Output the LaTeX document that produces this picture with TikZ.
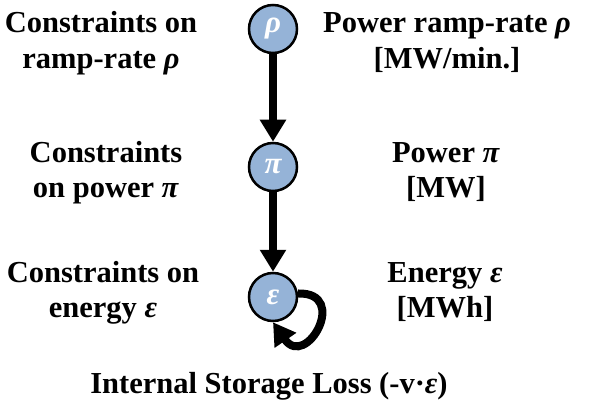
\documentclass[tikz,border=0pt]{standalone}
\usepackage{fontspec}
\setmainfont{Liberation Serif}
\usetikzlibrary{arrows.meta}
\definecolor{nodeblue}{RGB}{149,179,215}
\tikzset{
  var/.style={circle, draw=black, line width=2.5pt, fill=nodeblue, minimum size=48pt, inner sep=0pt,
    text=white, font=\fontsize{31}{34}\selectfont\bfseries\itshape},
  lbl/.style={anchor=base, inner sep=0pt, font=\fontsize{30.5}{36}\selectfont\bfseries},
  flow/.style={line width=8pt, -{Triangle[width=25pt,length=22pt]}}
}
\begin{document}
\begin{tikzpicture}[x=1pt,y=1pt]
\useasboundingbox (0,0) rectangle (598,408);
\node[var] (rho) at (273,379) {ρ};
\node[var] (pi)  at (273,241) {π};
\node[var] (eps) at (273,111) {ε};
\draw[flow] (rho) -- (pi);
\draw[flow] (pi) -- (eps);
\draw[flow] (eps.8) .. controls (350,116) and (306,38) .. (eps.-90);
\node[lbl] (l1) at (101,375) {\begin{tabular}[t]{@{}c@{}}Constraints on\\ramp-rate \textit{ρ}\end{tabular}};
\node[lbl] (l2) at (106,246) {\begin{tabular}[t]{@{}c@{}}Constraints\\on power \textit{π}\end{tabular}};
\node[lbl] (l3) at (103,126) {\begin{tabular}[t]{@{}c@{}}Constraints on\\energy \textit{ε}\end{tabular}};
\node[lbl] (r1) at (447,375) {\begin{tabular}[t]{@{}c@{}}Power ramp-rate \textit{ρ}\\{[}MW/min.{]}\end{tabular}};
\node[lbl] (r2) at (446,246) {\begin{tabular}[t]{@{}c@{}}Power \textit{π}\\{[}MW{]}\end{tabular}};
\node[lbl] (r3) at (445,126) {\begin{tabular}[t]{@{}c@{}}Energy \textit{ε}\\{[}MWh{]}\end{tabular}};
\node[lbl] (loss) at (269,15) {Internal Storage Loss (-v·\textit{ε})};
\end{tikzpicture}
\end{document}
